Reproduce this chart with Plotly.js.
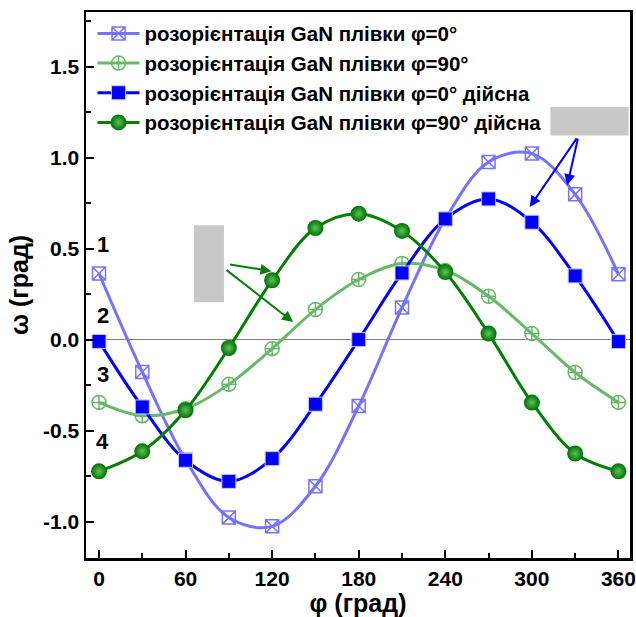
<!DOCTYPE html>
<html>
<head>
<meta charset="utf-8">
<script src="https://cdn.plot.ly/plotly-3.0.1.min.js"></script>
<style>html,body{margin:0;padding:0;background:#fff;}#chart{width:636px;height:617px;}</style>
</head>
<body>
<div id="chart"></div>
<script>
// angle phi (deg)
const phi = [0, 30, 60, 90, 120, 150, 180, 210, 240, 270, 300, 330, 360];
// omega (deg) values
const omega0 = [0.363, -0.178, -0.66, -0.978, -1.026, -0.806, -0.365, 0.176, 0.663, 0.976, 1.022, 0.798, 0.359];
const omega90 = [-0.345, -0.418, -0.38, -0.246, -0.05, 0.165, 0.33, 0.418, 0.38, 0.238, 0.033, -0.181, -0.345];
const omega0Real = [-0.01, -0.37, -0.663, -0.779, -0.654, -0.355, 0.0, 0.366, 0.663, 0.773, 0.645, 0.35, -0.011];
const omega90Real = [-0.724, -0.614, -0.388, -0.046, 0.326, 0.613, 0.692, 0.597, 0.371, 0.033, -0.346, -0.626, -0.724];

const names = [
  'розорієнтація GaN плівки φ=0°',
  'розорієнтація GaN плівки φ=90°',
  'розорієнтація GaN плівки φ=0° дійсна',
  'розорієнтація GaN плівки φ=90° дійсна'
];
const curveLabels = ['1', '2', '3', '4'];
const xTicks = [0, 60, 120, 180, 240, 300, 360];
const yTicks = [-1.0, -0.5, 0.0, 0.5, 1.0, 1.5];

const FONT = 'Liberation Sans, Arial, sans-serif';

const traces = [
  {x: phi, y: omega0, name: names[0], mode: 'lines+markers',
   line: {color: '#7373ff', width: 3, shape: 'spline', smoothing: 1},
   marker: {symbol: 'square-x-open', size: 13, color: '#7373ff', line: {width: 1.5, color: '#7373ff'}}},
  {x: phi, y: omega90, name: names[1], mode: 'lines+markers',
   line: {color: '#66b966', width: 3, shape: 'spline', smoothing: 1},
   marker: {symbol: 'circle-cross-open', size: 14, color: '#66b966', line: {width: 1.5, color: '#66b966'}}},
  {x: phi, y: omega0Real, name: names[2], mode: 'lines+markers',
   line: {color: '#0000ff', width: 3, shape: 'spline', smoothing: 1},
   marker: {symbol: 'square', size: 14, color: '#0000ff', line: {width: 1, color: '#c8c8ff'}}},
  {x: phi, y: omega90Real, name: names[3], mode: 'lines+markers',
   line: {color: '#008000', width: 3, shape: 'spline', smoothing: 1},
   marker: {symbol: 'circle', size: 16, color: '#007000', gradient: {type: 'radial', color: '#5cc45c'}, line: {width: 0}}}
];

const annotations = [];
const labelY = [0.52, 0.13, -0.19, -0.56];
curveLabels.forEach((t, i) => {
  annotations.push({x: 2.5, y: labelY[i], xref: 'x', yref: 'y', text: '<b>' + t + '</b>', showarrow: false,
    font: {family: FONT, size: 22, color: '#000'}});
});
// arrows from gray boxes
const arrowDefs = [
  {x: 119.5, y: 0.376, ax: -43, ay: -7, color: '#008000'},
  {x: 134.5, y: 0.097, ax: -68, ay: -53, color: '#008000'},
  {x: 298.5, y: 0.729, ax: 48, ay: -70, color: '#0000ff'},
  {x: 324.5, y: 0.848, ax: 11, ay: -48, color: '#0000ff'}
];
arrowDefs.forEach(a => {
  annotations.push({x: a.x, y: a.y, xref: 'x', yref: 'y', ax: a.ax, ay: a.ay, text: '', showarrow: true,
    arrowhead: 2, arrowsize: 1.1, arrowwidth: 2, arrowcolor: a.color, standoff: 0});
});

const layout = {
  width: 636, height: 617,
  margin: {l: 86, r: 6, t: 12, b: 59},
  paper_bgcolor: '#fff', plot_bgcolor: '#fff',
  font: {family: FONT, color: '#000'},
  showlegend: true,
  legend: {x: 0.012, y: 0.997, xanchor: 'left', yanchor: 'top', bgcolor: 'rgba(0,0,0,0)',
    font: {family: FONT, size: 20.5, color: '#000', weight: 'bold'}, tracegroupgap: 0, itemwidth: 42},
  xaxis: {range: [-9, 368], tickvals: xTicks, ticktext: xTicks.map(String),
    ticks: 'inside', ticklen: 8, tickwidth: 2, tickcolor: '#000',
    minor: {dtick: 30, tick0: 0, ticks: 'inside', ticklen: 5, tickwidth: 2, tickcolor: '#000'},
    showgrid: false, zeroline: false, showline: true, linecolor: '#000', linewidth: 2.5, mirror: true,
    tickfont: {family: FONT, size: 21, weight: 'bold'},
    title: {text: '<b>φ (град)</b>', font: {family: FONT, size: 25}, standoff: 2}},
  yaxis: {range: [-1.2, 1.8], tickvals: yTicks, ticktext: yTicks.map(v => v.toFixed(1)),
    ticks: 'inside', ticklen: 8, tickwidth: 2, tickcolor: '#000',
    minor: {dtick: 0.25, tick0: 0, ticks: 'inside', ticklen: 5, tickwidth: 2, tickcolor: '#000'},
    showgrid: false, zeroline: true, zerolinecolor: '#808080', zerolinewidth: 1.5,
    showline: true, linecolor: '#000', linewidth: 2.5, mirror: true,
    tickfont: {family: FONT, size: 21, weight: 'bold'},
    title: {text: '<b>ω (град)</b>', font: {family: FONT, size: 25}, standoff: 8}},
  shapes: [
    {type: 'rect', xref: 'x', yref: 'y', x0: 65.8, x1: 86.6, y0: 0.205, y1: 0.628,
     fillcolor: '#c8c8c8', line: {width: 0}, layer: 'above'},
    {type: 'rect', xref: 'x', yref: 'y', x0: 312.8, x1: 367, y0: 1.122, y1: 1.278,
     fillcolor: '#c8c8c8', line: {width: 0}, layer: 'above'}
  ],
  annotations: annotations
};

Plotly.newPlot('chart', traces, layout, {displayModeBar: false, staticPlot: true});
</script>
</body>
</html>
